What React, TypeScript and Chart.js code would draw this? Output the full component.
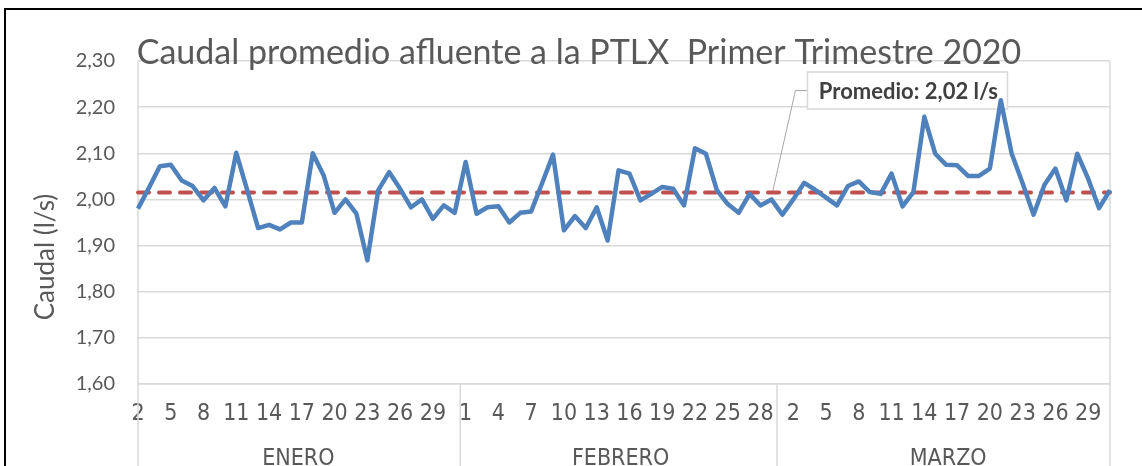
import React, { useEffect, useRef } from 'react';
import { Chart, registerables } from 'chart.js';

Chart.register(...registerables);

const chartTitle = 'Caudal promedio afluente a la PTLX  Primer Trimestre 2020';
const yAxisTitle = 'Caudal (l/s)';
const months = ['ENERO', 'FEBRERO', 'MARZO'];

const janDays = ['2','3','4','5','6','7','8','9','10','11','12','13','14','15','16','17','18','19','20','21','22','23','24','25','26','27','28','29','30','31'];
const febDays = ['1','2','3','4','5','6','7','8','9','10','11','12','13','14','15','16','17','18','19','20','21','22','23','24','25','26','27','28','29'];
const marDays = ['1','2','3','4','5','6','7','8','9','10','11','12','13','14','15','16','17','18','19','20','21','22','23','24','25','26','27','28','29','30','31'];

const janValues = [1.98, 2.025, 2.072, 2.075, 2.041, 2.029, 1.998, 2.025, 1.985, 2.101, 2.02, 1.938, 1.945, 1.935, 1.95, 1.95, 2.10, 2.052, 1.971, 2.00, 1.969, 1.868, 2.02, 2.059, 2.023, 1.983, 2.00, 1.958, 1.987, 1.971];
const febValues = [2.081, 1.969, 1.983, 1.985, 1.95, 1.971, 1.974, 2.035, 2.097, 1.933, 1.964, 1.938, 1.983, 1.911, 2.063, 2.056, 1.998, 2.012, 2.027, 2.023, 1.987, 2.111, 2.099, 2.02, 1.99, 1.971, 2.012, 1.987, 2.00];
const marValues = [1.967, 2.0, 2.036, 2.021, 2.004, 1.987, 2.029, 2.039, 2.016, 2.012, 2.056, 1.985, 2.016, 2.179, 2.099, 2.075, 2.074, 2.051, 2.051, 2.067, 2.215, 2.099, 2.035, 1.967, 2.032, 2.067, 1.998, 2.099, 2.045, 1.981, 2.02];

const promedio = 2.015;
const promedioLabel = 'Promedio: 2,02 l/s';
const promedioAnchorIndex = 58;

const yMin = 1.6;
const yMax = 2.3;
const yStep = 0.1;

const dayLabels = [...janDays, ...febDays, ...marDays];
const caudalValues = [...janValues, ...febValues, ...marValues];
const monthCounts = [janDays.length, febDays.length, marDays.length];

const GRID = '#d9d9d9';
const TEXT = '#595959';
const NARROW = "'Liberation Sans Narrow', 'DejaVu Sans Condensed', 'Arial Narrow', sans-serif";
const SANS = "Lato, 'Noto Sans', sans-serif";

const decorPlugin = {
  id: 'decor',
  beforeDatasetsDraw(chart: any) {
    const { ctx, chartArea, scales } = chart;
    const xs = scales.x;
    const ys = scales.y;
    const H = chart.height;
    const step = (chartArea.right - chartArea.left) / dayLabels.length;
    ctx.save();
    ctx.strokeStyle = GRID;
    ctx.lineWidth = 1.5;
    const line = (x1: number, y1: number, x2: number, y2: number) => {
      ctx.beginPath();
      ctx.moveTo(x1, y1);
      ctx.lineTo(x2, y2);
      ctx.stroke();
    };
    line(chartArea.left, chartArea.top, chartArea.left, H);
    line(chartArea.right, chartArea.top, chartArea.right, H);
    ctx.fillStyle = TEXT;
    ctx.font = `23px ${NARROW}`;
    ctx.textAlign = 'center';
    ctx.textBaseline = 'middle';
    let idx = 0;
    monthCounts.forEach((n, k) => {
      const start = xs.getPixelForValue(idx) - step / 2;
      const end = xs.getPixelForValue(idx + n - 1) + step / 2;
      if (k > 0) line(start, chartArea.bottom, start, H);
      ctx.fillText(months[k], (start + end) / 2 + 2, 459);
      idx += n;
    });

    // annotation
    const ax = xs.getPixelForValue(promedioAnchorIndex);
    const ay = ys.getPixelForValue(promedio);
    const boxL = ax + 36;
    const boxT = chartArea.top + 11;
    const boxW = 200;
    const boxH = 37;
    const midY = boxT + boxH / 2;
    ctx.strokeStyle = '#a6a6a6';
    ctx.lineWidth = 1;
    ctx.beginPath();
    ctx.moveTo(ax + 1, ay);
    ctx.lineTo(ax + 24, midY);
    ctx.lineTo(boxL, midY);
    ctx.stroke();
    ctx.fillStyle = '#ffffff';
    ctx.fillRect(boxL, boxT, boxW, boxH);
    ctx.strokeStyle = GRID;
    ctx.lineWidth = 1.5;
    ctx.strokeRect(boxL, boxT, boxW, boxH);
    ctx.fillStyle = '#404040';
    ctx.font = `bold 22px ${SANS}`;
    ctx.textAlign = 'center';
    ctx.textBaseline = 'middle';
    ctx.fillText(promedioLabel, boxL + boxW / 2 + 1, midY + 1);
    ctx.restore();
  },
  afterDraw(chart: any) {
    const { ctx } = chart;
    ctx.save();
    ctx.fillStyle = TEXT;
    ctx.font = `34px ${SANS}`;
    ctx.textAlign = 'center';
    ctx.textBaseline = 'alphabetic';
    ctx.fillText(chartTitle, 579, 64);

    ctx.translate(46, 257);
    ctx.rotate(-Math.PI / 2);
    ctx.font = `26px ${SANS}`;
    ctx.textBaseline = 'middle';
    ctx.fillText(yAxisTitle, 0, 0);
    ctx.setTransform(1, 0, 0, 1, 0, 0);

    ctx.strokeStyle = '#000000';
    ctx.lineWidth = 2;
    ctx.strokeRect(5, 9, chart.width + 10, chart.height + 10);
    ctx.restore();
  },
};

export default function App() {
  const canvasRef = useRef<HTMLCanvasElement | null>(null);

  useEffect(() => {
    document.body.style.margin = '0';
    const canvas = canvasRef.current;
    if (!canvas) return;
    const chart = new Chart(canvas, {
      type: 'line',
      data: {
        labels: dayLabels,
        datasets: [
          {
            label: 'Caudal',
            data: caudalValues,
            borderColor: '#4f81bd',
            borderWidth: 4.5,
            pointRadius: 0,
            tension: 0,
            borderJoinStyle: 'round',
            order: 1,
          },
          {
            label: 'Promedio',
            data: dayLabels.map(() => promedio),
            borderColor: '#c0504d',
            borderWidth: 4,
            borderDash: [11, 10],
            borderCapStyle: 'round',
            pointRadius: 0,
            order: 2,
          },
        ],
      },
      options: {
        animation: false,
        responsive: false,
        maintainAspectRatio: false,
        layout: { padding: { left: 0, right: 32, top: 61, bottom: 0 } },
        plugins: {
          legend: { display: false },
          tooltip: { enabled: false },
          title: { display: false },
        },
        scales: {
          x: {
            type: 'category',
            grid: { display: false, drawTicks: false },
            border: { display: true, color: GRID, width: 1.5 },
            ticks: {
              autoSkip: false,
              maxRotation: 0,
              minRotation: 0,
              padding: 16,
              color: TEXT,
              font: { family: NARROW, size: 23 },
              callback: (_v: any, i: number) => (i % 3 === 0 ? dayLabels[i] : ''),
            },
            afterFit: (s: any) => {
              s.height = 82;
            },
          },
          y: {
            min: yMin,
            max: yMax,
            grid: { color: GRID, lineWidth: 1.5, drawTicks: false },
            border: { display: false },
            ticks: {
              stepSize: yStep,
              padding: 23,
              color: TEXT,
              font: { family: SANS, size: 20 },
              callback: (v: any) => Number(v).toFixed(2).replace('.', ','),
            },
            afterFit: (s: any) => {
              s.width = 138;
            },
          },
        },
      },
      plugins: [decorPlugin],
    });
    return () => chart.destroy();
  }, []);

  return (
    <div style={{ width: 1142, height: 466, position: 'relative' }}>
      <canvas ref={canvasRef} width={1142} height={466} style={{ display: 'block' }} />
    </div>
  );
}
